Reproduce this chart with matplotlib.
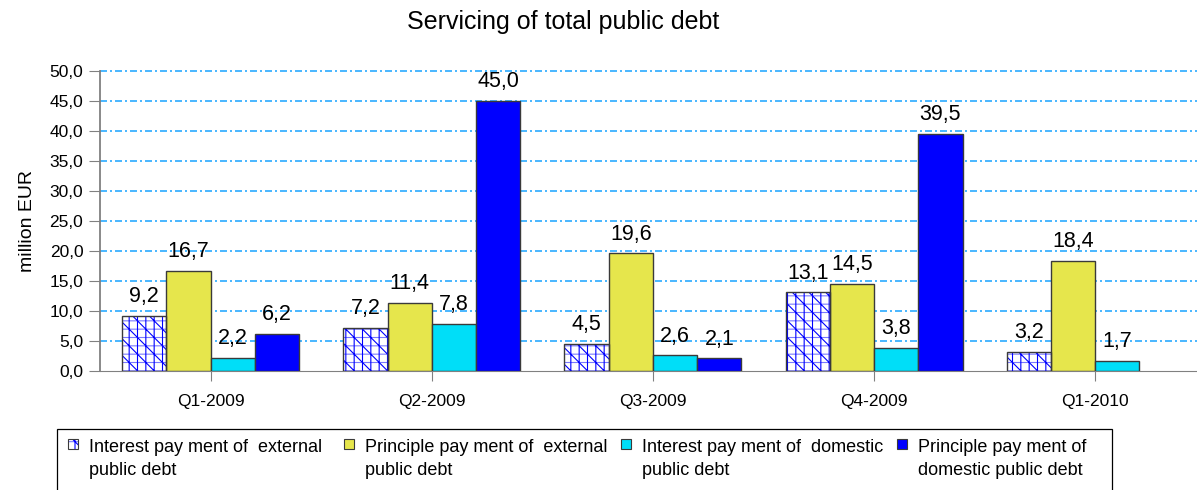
import numpy as np
import matplotlib
matplotlib.use("Agg")
from matplotlib import pyplot as plt
from matplotlib.patches import Rectangle

plt.rcParams["font.family"] = ["Liberation Sans", "DejaVu Sans"]
plt.rcParams["hatch.linewidth"] = 0.8

# data
quarters = ["Q1-2009", "Q2-2009", "Q3-2009", "Q4-2009", "Q1-2010"]
int_external = [9.2, 7.2, 4.5, 13.1, 3.2]
prin_external = [16.7, 11.4, 19.6, 14.5, 18.4]
int_domestic = [2.2, 7.8, 2.6, 3.8, 1.7]
prin_domestic = [6.2, 45.0, 2.1, 39.5, np.nan]

labels = ["Interest pay ment of  external\npublic debt",
          "Principle pay ment of  external\npublic debt",
          "Interest pay ment of  domestic\npublic debt",
          "Principle pay ment of\ndomestic public debt"]

W, H = 1197, 490
fig = plt.figure(figsize=(W / 100, H / 100), dpi=100)
ax = fig.add_axes([100 / W, 1 - 371 / H, 1097 / W, 300 / H])

x = np.arange(len(quarters))
w = 0.2
edge = "#3a3a3a"
yellow, cyan, blue = "#e6e64c", "#00def8", "#0000ff"


def hatched(target, *args, **kw):
    # white box with light blue horizontals, blue verticals + diagonals
    target.bar(*args, color="white", edgecolor="#7a7aff", hatch="--", lw=0, zorder=3, **kw)
    target.bar(*args, fill=False, edgecolor=blue, hatch="||\\\\", lw=0, zorder=3, **kw)
    return target.bar(*args, fill=False, edgecolor=edge, lw=1, zorder=4, **kw)


b0 = hatched(ax, x - 1.5 * w, int_external, w)
b1 = ax.bar(x - 0.5 * w, prin_external, w, color=yellow, edgecolor=edge, lw=1, zorder=3)
b2 = ax.bar(x + 0.5 * w, int_domestic, w, color=cyan, edgecolor=edge, lw=1, zorder=3)
b3 = ax.bar(x + 1.5 * w, prin_domestic, w, color=blue, edgecolor=edge, lw=1, zorder=3)

for bars in [b0, b1, b2, b3]:
    for r in bars:
        h = r.get_height()
        if np.isnan(h):
            continue
        ax.annotate(f"{h:.1f}".replace(".", ","), (r.get_x() + r.get_width() / 2, h),
                    xytext=(0, 10), textcoords="offset points", ha="center", va="baseline",
                    fontsize=15.5, zorder=5)

ax.set_ylim(0, 50)
ax.set_xlim(-0.5, 4.46)
yt = np.arange(0, 51, 5)
ax.set_yticks(yt)
ax.set_yticklabels([f"{v:.1f}".replace(".", ",") for v in yt], fontsize=12.5)
ax.set_xticks(x)
ax.set_xticklabels(quarters, fontsize=12.5)
ax.tick_params(axis="x", length=7.5, color="#808080", pad=9)
ax.tick_params(axis="y", length=8, color="#808080", pad=4)

for v in yt[1:]:
    ax.axhline(v, color="#4db8ff", lw=1.1, ls=(0, (4, 2.2, 1.2, 2.2)), zorder=1,
               antialiased=False, clip_on=False)

ax.spines["top"].set_visible(False)
ax.spines["right"].set_visible(False)
ax.spines["left"].set_color("#808080")
ax.spines["bottom"].set_color("#808080")
ax.spines["left"].set_linewidth(1.3)

ax.set_ylabel("million EUR", fontsize=14, labelpad=10)
fig.text(563 / W, 1 - 22 / H, "Servicing of total public debt", ha="center", va="center", fontsize=18)

# legend, drawn by hand so the keys sit on the first text line
fig.patches.append(Rectangle((57 / W, 1 - 500 / H), (1112 - 57) / W, 71 / H,
                             transform=fig.transFigure, fill=False, edgecolor="black",
                             lw=0.9, clip_on=False))
key_colors = [None, yellow, cyan, blue]
for i, lab in enumerate(labels):
    kx = 68 + i * 276.3
    kw_, kh = 10 / W, 10 / H
    ky = 1 - 449 / H
    if key_colors[i] is None:
        fig.patches.append(Rectangle((kx / W, ky), kw_, kh, transform=fig.transFigure,
                                     facecolor="white", edgecolor="#7a7aff", hatch="-", lw=0))
        fig.patches.append(Rectangle((kx / W, ky), kw_, kh, transform=fig.transFigure,
                                     fill=False, edgecolor=blue, hatch="|\\", lw=0))
        fig.patches.append(Rectangle((kx / W, ky), kw_, kh, transform=fig.transFigure,
                                     fill=False, edgecolor=edge, lw=0.8))
    else:
        fig.patches.append(Rectangle((kx / W, ky), kw_, kh, transform=fig.transFigure,
                                     facecolor=key_colors[i], edgecolor=edge, lw=0.8))
    fig.text((kx + 21) / W, 1 - 439 / H, lab, ha="left", va="top", fontsize=13,
             linespacing=1.45)

fig.savefig("out.png", dpi=100)
